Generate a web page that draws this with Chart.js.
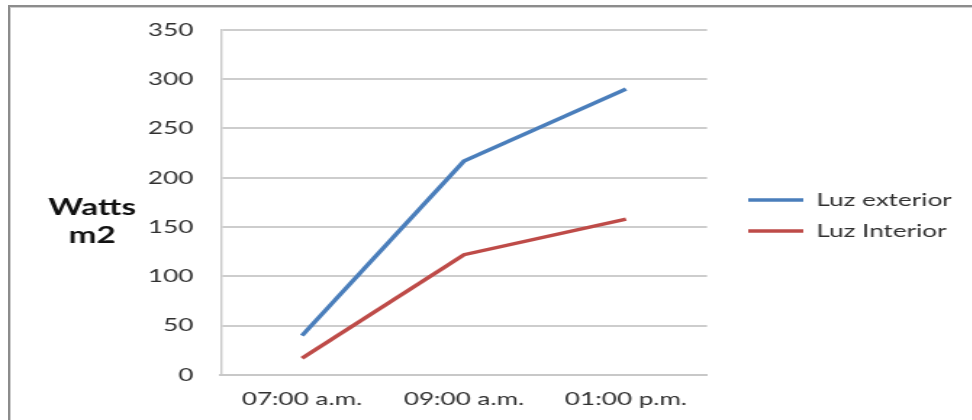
<!DOCTYPE html>
<html><head><meta charset="utf-8">
<script src="https://cdn.jsdelivr.net/npm/chart.js@4"></script>
<style>
html,body{margin:0;padding:0;background:#fff;overflow:hidden;width:972px;height:420px;}
#frame{position:absolute;left:8px;top:5px;width:1200px;height:800px;border-left:2px solid #8c8c8c;border-top:2px solid #8c8c8c;box-shadow:inset 1px 1px 0 #cfcfcf;}
#wrap{position:absolute;left:0;top:0;width:671px;height:420px;transform:scaleX(1.45);transform-origin:0 0;}
</style></head><body>
<div id="frame"></div>
<div id="wrap"><canvas id="c" width="671" height="420"></canvas></div>
<script>
const categories = ['07:00 a.m.', '09:00 a.m.', '01:00 p.m.'];
const luzExterior = [40, 217, 290];
const luzInterior = [17, 122, 158];
const seriesNames = ['Luz exterior', 'Luz Interior'];
const yMin = 0, yMax = 350, yStep = 50;
const yTitle = ['Watts', 'm2'];

const tickFont = {family: 'Lato', size: 18};
const textColor = '#303030';
const legendPad = 13, legendBox = 38;

// measure legend width so the legend box is not clipped and starts where wanted
const mctx = document.createElement('canvas').getContext('2d');
mctx.font = '18px Lato';
const maxText = Math.max(...seriesNames.map(t => mctx.measureText(t).width));
const legendWidth = legendPad + legendBox + tickFont.size / 2 + maxText + 10;
const legendLeft = 503;
const padRight = Math.max(0, 671 - legendLeft - legendWidth);

const titlePlugin = {
  id: 'yTitle',
  afterDraw(chart) {
    const ctx = chart.ctx;
    ctx.save();
    ctx.font = 'bold 23px Lato';
    ctx.fillStyle = '#111';
    ctx.textAlign = 'center';
    ctx.textBaseline = 'middle';
    ctx.fillText(yTitle[0], 63.6, 207.5);
    ctx.fillText(yTitle[1], 63.6, 235.5);
    ctx.restore();
  }
};

new Chart(document.getElementById('c'), {
  type: 'line',
  data: {
    labels: categories,
    datasets: [
      {label: seriesNames[0], data: luzExterior, borderColor: '#4a7ebb', backgroundColor: '#4a7ebb', borderWidth: 3.4, pointRadius: 0, tension: 0},
      {label: seriesNames[1], data: luzInterior, borderColor: '#be4b48', backgroundColor: '#be4b48', borderWidth: 3.4, pointRadius: 0, tension: 0}
    ]
  },
  options: {
    responsive: false,
    animation: false,
    devicePixelRatio: 1,
    layout: {padding: {top: 11, bottom: 0, left: 0, right: padRight}},
    plugins: {
      legend: {
        position: 'right',
        maxWidth: 400,
        labels: {font: tickFont, color: textColor, padding: legendPad, usePointStyle: true, pointStyle: 'line', pointStyleWidth: legendBox}
      },
      tooltip: {enabled: false}
    },
    scales: {
      x: {
        offset: true,
        grid: {display: false, drawTicks: false},
        border: {display: true, color: '#c8c8c8', width: 2},
        ticks: {font: tickFont, color: textColor, padding: 13, maxRotation: 0},
        afterFit(s) { s.height = 45; }
      },
      y: {
        min: yMin, max: yMax,
        ticks: {stepSize: yStep, padding: 19, font: tickFont, color: textColor},
        grid: {color: '#cdcdcd', lineWidth: 2, drawTicks: false},
        border: {display: true, color: '#c8c8c8', width: 1.4},
        afterFit(s) { s.width = 152.4; }
      },
      gapTop: {
        type: 'linear', axis: 'x', position: 'top', display: true,
        grid: {display: false, drawTicks: false},
        border: {display: false},
        ticks: {display: false},
        afterFit(s) { s.height = 18; }
      },
      gap: {
        type: 'linear', axis: 'y', position: 'right', display: true,
        grid: {display: false, drawTicks: false},
        border: {display: false},
        ticks: {display: false},
        afterFit(s) { s.width = 15.4; }
      }
    }
  },
  plugins: [titlePlugin]
});
</script>
</body></html>
